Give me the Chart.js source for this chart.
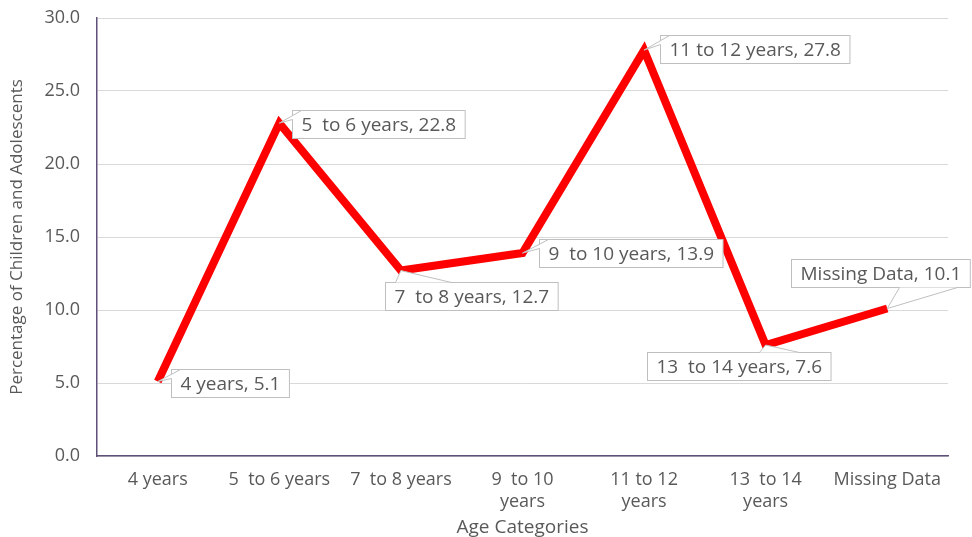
<!DOCTYPE html>
<html>
<head>
<meta charset="utf-8">
<script src="https://cdn.jsdelivr.net/npm/chart.js@4.4.0/dist/chart.umd.min.js"></script>
<style>
  html, body { margin: 0; padding: 0; background: #fff; }
  #wrap { width: 972px; height: 537px; }
</style>
</head>
<body>
<div id="wrap"><canvas id="chart" width="972" height="537"></canvas></div>
<script>
// categories and values
const categories = ['4 years', '5  to 6 years', '7  to 8 years', '9  to 10 years', '11 to 12 years', '13  to 14 years', 'Missing Data'];
const tickLabels = ['4 years', '5  to 6 years', '7  to 8 years', ['9  to 10', 'years'], ['11 to 12', 'years'], ['13  to 14', 'years'], 'Missing Data'];
const percentages = [5.1, 22.8, 12.7, 13.9, 27.8, 7.6, 10.1];

const FONT = '"Open Sans", Lato, sans-serif';
const TEXT = '#595959';

// where each callout box sits relative to its point, and where its wedge attaches
const callouts = [
    { dx: 13, dy: -13, wedge: 'corner' },
    { dx: 13, dy: -13, wedge: 'corner' },
    { dx: -16, dy: 11, wedge: 'top', a: 10, b: 66 },
    { dx: 16, dy: -14, wedge: 'corner' },
    { dx: 16, dy: -15, wedge: 'corner' },
    { dx: -119, dy: 7, wedge: 'top', a: 112, b: 152 },
    { dx: -96, dy: -50, wedge: 'bottom', a: 108, b: 166 }
];

const calloutPlugin = {
    id: 'callouts',
    afterDatasetsDraw(chart) {
        const ctx = chart.ctx;
        const meta = chart.getDatasetMeta(0);
        ctx.save();
        ctx.font = '19px ' + FONT;
        meta.data.forEach((pt, i) => {
            const c = callouts[i];
            const text = categories[i] + ', ' + percentages[i].toFixed(1);
            const w = ctx.measureText(text).width + 18;
            const h = 28;
            const x = Math.round(pt.x + c.dx) + 0.5;
            const y = Math.round(pt.y + c.dy) + 0.5;
            let p1, p2;
            if (c.wedge === 'corner') {
                p1 = [x, y + 9];
                p2 = [x + 9, y];
            } else if (c.wedge === 'top') {
                p1 = [x + c.a, y];
                p2 = [x + c.b, y];
            } else {
                p1 = [x + c.a, y + h];
                p2 = [x + c.b, y + h];
            }
            ctx.fillStyle = '#fff';
            ctx.strokeStyle = '#bfbfbf';
            ctx.lineWidth = 1;
            ctx.fillRect(x, y, w, h);
            ctx.strokeRect(x, y, w, h);
            // wedge toward the point
            ctx.beginPath();
            ctx.moveTo(p1[0], p1[1]);
            ctx.lineTo(pt.x, pt.y);
            ctx.lineTo(p2[0], p2[1]);
            ctx.closePath();
            ctx.fill();
            ctx.beginPath();
            ctx.moveTo(p1[0], p1[1]);
            ctx.lineTo(pt.x, pt.y);
            ctx.lineTo(p2[0], p2[1]);
            ctx.stroke();
            ctx.fillStyle = TEXT;
            ctx.textBaseline = 'middle';
            ctx.textAlign = 'left';
            ctx.fillText(text, x + 9, y + h / 2 + 1);
        });
        ctx.restore();
    }
};

new Chart(document.getElementById('chart').getContext('2d'), {
    type: 'line',
    data: {
        labels: tickLabels,
        datasets: [{
            data: percentages,
            borderColor: '#ff0000',
            borderWidth: 8,
            borderJoinStyle: 'miter',
            pointRadius: 0,
            pointHoverRadius: 0,
            tension: 0,
            fill: false
        }]
    },
    options: {
        responsive: false,
        animation: false,
        layout: { padding: { top: 18, right: 24, left: 0, bottom: 0 } },
        scales: {
            x: {
                offset: true,
                grid: { display: false, offset: true },
                border: { display: true, color: '#5e5078', width: 1.5 },
                ticks: {
                    color: TEXT,
                    font: { family: FONT, size: 18, lineHeight: 1.22 },
                    padding: 5,
                    autoSkip: false,
                    maxRotation: 0,
                    minRotation: 0
                },
                title: {
                    display: true,
                    text: 'Age Categories',
                    color: TEXT,
                    font: { family: FONT, size: 19 },
                    padding: { top: 0, bottom: -2 }
                },
                afterFit(scale) {
                    scale.height = 81;
                    scale.paddingLeft = 0;
                    scale.paddingRight = 0;
                }
            },
            y: {
                min: 0,
                max: 30,
                ticks: {
                    stepSize: 5,
                    color: TEXT,
                    font: { family: FONT, size: 18 },
                    padding: 17,
                    callback: v => v.toFixed(1)
                },
                grid: { color: '#d9d9d9', lineWidth: 1, drawTicks: false },
                border: { display: true, color: '#5e5078', width: 1.5 },
                title: {
                    display: true,
                    text: 'Percentage of Children and Adolescents',
                    color: TEXT,
                    font: { family: FONT, size: 17 },
                    padding: { top: 7, bottom: 0 }
                },
                afterFit(scale) {
                    scale.width = 97;
                    scale.paddingTop = 0;
                    scale.paddingBottom = 0;
                }
            }
        },
        plugins: {
            legend: { display: false },
            tooltip: { enabled: false }
        }
    },
    plugins: [calloutPlugin]
});
</script>
</body>
</html>
